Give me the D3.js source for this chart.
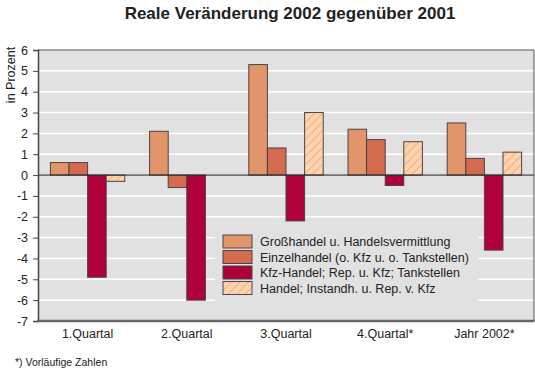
<!DOCTYPE html>
<html>
<head>
<meta charset="utf-8">
<script src="https://cdn.jsdelivr.net/npm/d3@7"></script>
<style>
  body { margin: 0; background: #fff; }
  svg { display: block; font-family: "Liberation Sans", Arial, Helvetica, sans-serif; }
</style>
</head>
<body>
<svg id="chart" width="535" height="372"></svg>
<script>
// Data
const categories = ['1.Quartal', '2.Quartal', '3.Quartal', '4.Quartal*', 'Jahr 2002*'];
const seriesNames = [
  'Großhandel u. Handelsvermittlung',
  'Einzelhandel (o. Kfz u. o. Tankstellen)',
  'Kfz-Handel; Rep. u. Kfz; Tankstellen',
  'Handel; Instandh. u. Rep. v. Kfz'
];
const grosshandel = [0.6, 2.1, 5.3, 2.2, 2.5];
const einzelhandel = [0.6, -0.6, 1.3, 1.7, 0.8];
const kfzHandel = [-4.9, -6.0, -2.2, -0.5, -3.6];
const instandhaltung = [-0.3, 0, 3.0, 1.6, 1.1];
const yTicks = [6, 5, 4, 3, 2, 1, 0, -1, -2, -3, -4, -5, -6, -7];

const seriesValues = [grosshandel, einzelhandel, kfzHandel, instandhaltung];
const fills = ['#e2956b', '#d46b4f', '#b0003a', 'url(#hatch)'];

const svg = d3.select('#chart');
const plotLeft = 38, plotRight = 534, plotTop = 50, plotBottom = 321;

// hatch pattern for the last series
const defs = svg.append('defs');
const pat = defs.append('pattern')
  .attr('id', 'hatch')
  .attr('patternUnits', 'userSpaceOnUse')
  .attr('width', 6).attr('height', 6)
  .attr('patternTransform', 'rotate(45)');
pat.append('rect').attr('width', 6).attr('height', 6).attr('fill', '#fdd2ac');
pat.append('line').attr('x1', 0).attr('y1', 0).attr('x2', 0).attr('y2', 6)
  .attr('stroke', '#e6a075').attr('stroke-width', 1.4);

const y = d3.scaleLinear().domain([-7, 6]).range([plotBottom, plotTop]);
const x0 = d3.scaleBand().domain(categories).range([plotLeft, plotRight])
  .paddingInner(0.25).paddingOuter(0.125);
const x1 = d3.scaleBand().domain(d3.range(seriesValues.length)).range([0, x0.bandwidth()]);

// title
svg.append('text')
  .attr('x', (plotLeft + plotRight) / 2 + 4).attr('y', 19)
  .attr('text-anchor', 'middle')
  .attr('font-size', 17).attr('font-weight', 'bold').attr('fill', '#222')
  .text('Reale Veränderung 2002 gegenüber 2001');

// plot background
svg.append('rect')
  .attr('x', plotLeft).attr('y', plotTop)
  .attr('width', plotRight - plotLeft).attr('height', plotBottom - plotTop)
  .attr('fill', '#e1e1e1');

// grid lines
svg.append('g')
  .selectAll('line')
  .data(yTicks.filter(d => d !== 0 && d !== -7 && d !== 6))
  .join('line')
  .attr('x1', plotLeft).attr('x2', plotRight)
  .attr('y1', d => y(d)).attr('y2', d => y(d))
  .attr('stroke', '#fff').attr('stroke-width', 1.5);

// legend background hides grid lines behind it
svg.append('rect')
  .attr('x', 215).attr('y', 228).attr('width', 263).attr('height', 76)
  .attr('fill', '#e1e1e1');

// bars
const groups = svg.append('g')
  .selectAll('g')
  .data(categories)
  .join('g')
  .attr('transform', d => `translate(${x0(d)},0)`);

groups.selectAll('rect')
  .data((d, i) => seriesValues.map((s, k) => ({ k, v: s[i] })).filter(e => e.v !== 0))
  .join('rect')
  .attr('x', d => x1(d.k))
  .attr('width', x1.bandwidth())
  .attr('y', d => y(Math.max(0, d.v)))
  .attr('height', d => Math.abs(y(d.v) - y(0)))
  .attr('fill', d => fills[d.k])
  .attr('stroke', '#4a4444').attr('stroke-width', 1);

// zero line
svg.append('line')
  .attr('x1', plotLeft).attr('x2', plotRight)
  .attr('y1', y(0)).attr('y2', y(0))
  .attr('stroke', '#222').attr('stroke-width', 1);

// frame
svg.append('path')
  .attr('d', `M${plotLeft},${plotTop}H${plotRight}V${plotBottom}`)
  .attr('fill', 'none').attr('stroke', '#555').attr('stroke-width', 1);

// y axis
const yAxis = svg.append('g')
  .attr('transform', `translate(${plotLeft},0)`)
  .call(d3.axisLeft(y).tickValues(yTicks).tickFormat(d => String(d)).tickSize(5).tickPadding(5));
yAxis.select('.domain').attr('stroke', '#444').attr('stroke-width', 1.5);
yAxis.selectAll('.tick line').attr('stroke', '#444');
yAxis.selectAll('.tick text').attr('font-size', 12.5).attr('fill', '#222')
  .attr('font-family', '"Liberation Sans", Arial, sans-serif');

// bottom axis line
svg.append('line')
  .attr('x1', plotLeft - 1).attr('x2', plotRight + 0.5)
  .attr('y1', plotBottom).attr('y2', plotBottom)
  .attr('stroke', '#666').attr('stroke-width', 2.5);

// x labels
svg.append('g')
  .selectAll('text')
  .data(categories)
  .join('text')
  .attr('x', d => x0(d) + x0.bandwidth() / 2)
  .attr('y', 338)
  .attr('text-anchor', 'middle')
  .attr('font-size', 12.5).attr('fill', '#222')
  .text(d => d);

// y axis title
svg.append('text')
  .attr('transform', 'translate(15,75) rotate(-90)')
  .attr('text-anchor', 'middle')
  .attr('font-size', 12.5).attr('fill', '#222')
  .text('in Prozent');

// legend
const legend = svg.append('g')
  .selectAll('g')
  .data(seriesNames)
  .join('g')
  .attr('transform', (d, i) => `translate(223,${235 + i * 15.5})`);

legend.append('rect')
  .attr('width', 29).attr('height', 13)
  .attr('fill', (d, i) => fills[i])
  .attr('stroke', '#4a4444').attr('stroke-width', 1);

legend.append('text')
  .attr('x', 37).attr('y', 11)
  .attr('font-size', 12.5).attr('fill', '#222')
  .text(d => d);

// footnote
svg.append('text')
  .attr('x', 15).attr('y', 366)
  .attr('font-size', 10.5).attr('fill', '#222')
  .text('*) Vorläufige Zahlen');
</script>
</body>
</html>
